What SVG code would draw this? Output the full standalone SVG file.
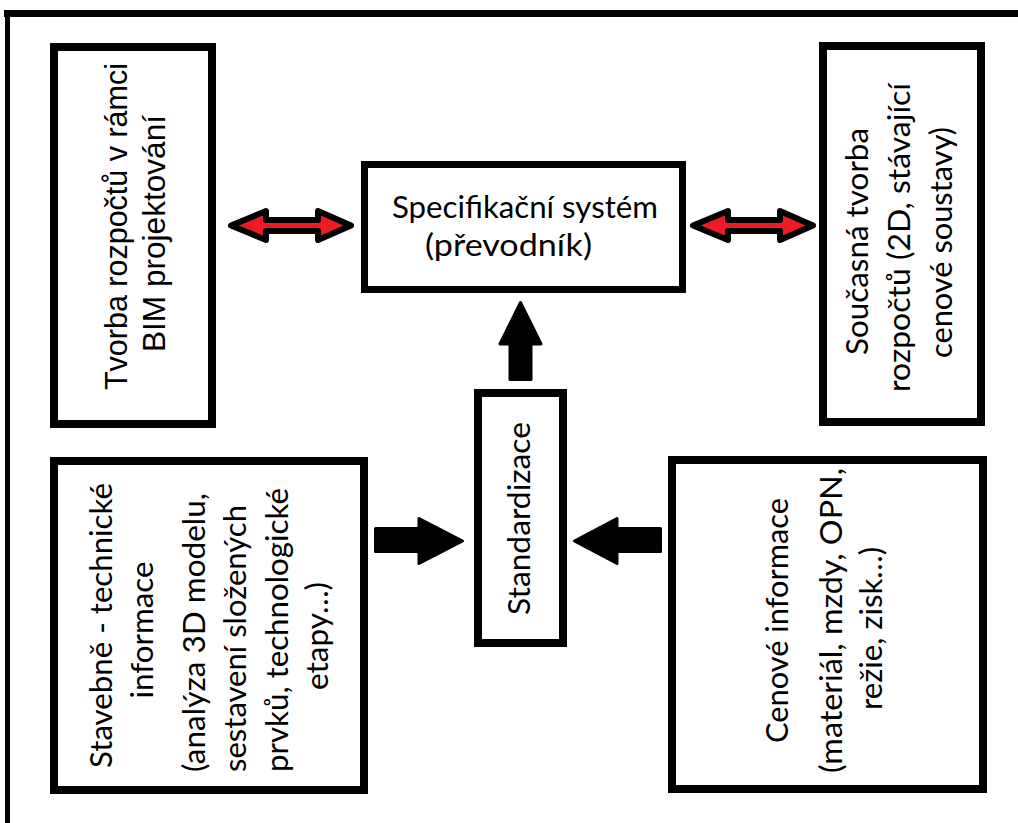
<svg xmlns="http://www.w3.org/2000/svg" width="1018" height="823" viewBox="0 0 1018 823">
<style>
.box{fill:#fff;stroke:#000;stroke-width:8}
.t{font-family:Lato,"Open Sans",sans-serif;font-size:31px;fill:#000;text-anchor:middle}
.ta{font-family:"Liberation Sans",Arial,sans-serif;font-size:31px;fill:#000;text-anchor:middle}
.dbl{fill:#ed1c24;stroke:#000;stroke-width:6;stroke-linejoin:round}
.blk{fill:#000;stroke:#000;stroke-width:3;stroke-linejoin:round}
</style>
<rect width="1018" height="823" fill="#fff"/>
<g id="frame" fill="#000">
<rect x="4" y="10" width="1014" height="7"/>
<rect x="5" y="10" width="5" height="813"/>
</g>
<g id="bim">
<rect class="box" x="54" y="47" width="158" height="377"/>
<text class="ta" transform="translate(127,226.5) rotate(-90)" textLength="327" lengthAdjust="spacingAndGlyphs">Tvorba rozpočtů v rámci</text>
<text class="ta" transform="translate(165,233.5) rotate(-90)" textLength="237" lengthAdjust="spacingAndGlyphs">BIM projektování</text>
</g>
<g id="spec">
<rect class="box" style="stroke-width:7" x="364.5" y="164.5" width="318" height="125"/>
<text class="t" x="525" y="218" textLength="266" lengthAdjust="spacingAndGlyphs">Specifikační systém</text>
<text class="t" x="508.5" y="256" textLength="167" lengthAdjust="spacingAndGlyphs">(převodník)</text>
</g>
<g id="soucasna">
<rect class="box" x="823" y="46" width="158" height="376"/>
<text class="t" transform="translate(868,241.5) rotate(-90)" textLength="227" lengthAdjust="spacingAndGlyphs">Současná tvorba</text>
<text class="t" transform="translate(910,237.5) rotate(-90)" textLength="309" lengthAdjust="spacingAndGlyphs">rozpočtů (2D, stávající</text>
<text class="t" transform="translate(952,242.5) rotate(-90)" textLength="231" lengthAdjust="spacingAndGlyphs">cenové soustavy)</text>
</g>
<g id="standardizace">
<rect class="box" x="478" y="393" width="85" height="250"/>
<text class="t" transform="translate(530,518.5) rotate(-90)" textLength="193" lengthAdjust="spacingAndGlyphs">Standardizace</text>
</g>
<g id="stavebne">
<rect class="box" x="54" y="461" width="310" height="329"/>
<text class="t" transform="translate(112,625.5) rotate(-90)" textLength="285" lengthAdjust="spacingAndGlyphs">Stavebně - technické</text>
<text class="t" transform="translate(153,630) rotate(-90)" textLength="137" lengthAdjust="spacingAndGlyphs">informace</text>
<text class="t" transform="translate(205,632.5) rotate(-90)" textLength="279" lengthAdjust="spacingAndGlyphs">(analýza 3D modelu,</text>
<text class="t" transform="translate(246,638.5) rotate(-90)" textLength="267" lengthAdjust="spacingAndGlyphs">sestavení složených</text>
<text class="t" transform="translate(288,630) rotate(-90)" textLength="284" lengthAdjust="spacingAndGlyphs">prvků, technologické</text>
<text class="t" transform="translate(328,636) rotate(-90)" textLength="108" lengthAdjust="spacingAndGlyphs">etapy…)</text>
</g>
<g id="cenove">
<rect class="box" x="672" y="460" width="311" height="329"/>
<text class="t" transform="translate(788,620.5) rotate(-90)" textLength="245" lengthAdjust="spacingAndGlyphs">Cenové informace</text>
<text class="t" transform="translate(842,620.5) rotate(-90)" textLength="305" lengthAdjust="spacingAndGlyphs">(materiál, mzdy, OPN,</text>
<text class="t" transform="translate(882,628.5) rotate(-90)" textLength="163" lengthAdjust="spacingAndGlyphs">režie, zisk…)</text>
</g>
<g id="connectors">
<path class="dbl" d="M231,225.5 L266,211 L266,220 L318,220 L318,211 L351,225.5 L318,240 L318,231 L266,231 L266,240 Z"/>
<path class="dbl" d="M693,225.5 L728,211 L728,220 L780,220 L780,211 L813,225.5 L780,240 L780,231 L728,231 L728,240 Z"/>
<path class="blk" d="M520.5,302.5 L541,344 L531,344 L531,379.5 L510,379.5 L510,344 L500,344 Z"/>
<path class="blk" d="M375.5,528.5 L419,528.5 L419,518.5 L462.5,541 L419,563.5 L419,551.5 L375.5,551.5 Z"/>
<path class="blk" d="M660.5,528.5 L617,528.5 L617,518.5 L574.5,541 L617,563.5 L617,551.5 L660.5,551.5 Z"/>
</g>
</svg>
